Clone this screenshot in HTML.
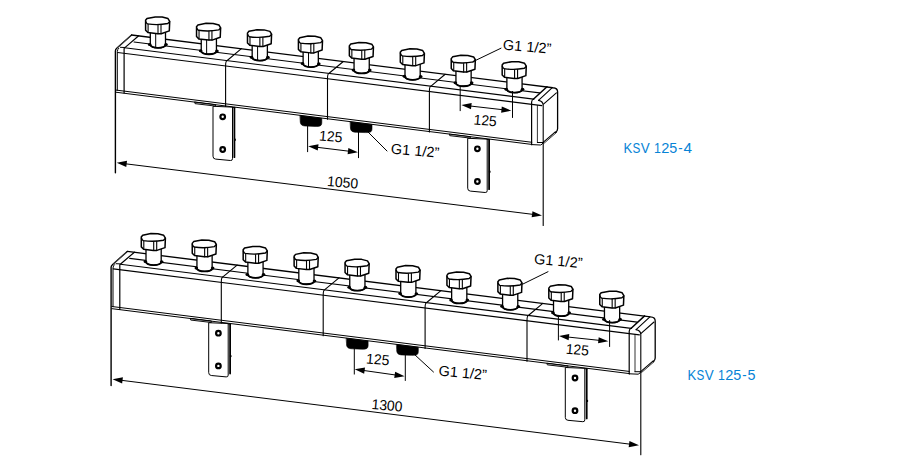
<!DOCTYPE html><html><head><meta charset="utf-8"><style>html,body{margin:0;padding:0;background:#fff;}svg{display:block;font-family:"Liberation Sans",sans-serif;}</style></head><body>
<svg width="907" height="462" viewBox="0 0 907 462" stroke-linecap="round" stroke-linejoin="round">
<rect width="907" height="462" fill="#fff"/>
<g transform="translate(0,0)">
<path d="M195 101.8 L215.6 104.4 L215.6 106.1 L195.4 103.7 Z" fill="#c8c8c8" stroke="#111" stroke-width="1" />
<path d="M213 106.7 L213 156.2 Q213 158.9 215.6 159.1 L230.5 160.5 Q232.5 160.7 232.5 158.7 L232.5 107.5 Z" fill="#fff" stroke="#000" stroke-width="1" />
<line x1="234.4" y1="107.7" x2="234.4" y2="157.2" stroke="#000" stroke-width="1.8"/>
<ellipse cx="235" cy="139.7" rx="0.9" ry="1.2" fill="#000"/>
<line x1="232.5" y1="107.5" x2="235" y2="107.6" stroke="#000" stroke-width="1"/>
<circle cx="222.7" cy="116.8" r="2.3" fill="#fff" stroke="#000" stroke-width="2.2"/>
<circle cx="222.7" cy="149.5" r="2.3" fill="#fff" stroke="#000" stroke-width="2.2"/>
<path d="M449.7 133.8 L470.3 136.4 L470.3 138.1 L450.1 135.7 Z" fill="#c8c8c8" stroke="#111" stroke-width="1" />
<path d="M467.7 138.7 L467.7 188.2 Q467.7 190.9 470.3 191.1 L485.2 192.5 Q487.2 192.7 487.2 190.7 L487.2 139.5 Z" fill="#fff" stroke="#000" stroke-width="1" />
<line x1="489.1" y1="139.7" x2="489.1" y2="189.2" stroke="#000" stroke-width="1.8"/>
<ellipse cx="489.7" cy="171.7" rx="0.9" ry="1.2" fill="#000"/>
<line x1="487.2" y1="139.5" x2="489.7" y2="139.6" stroke="#000" stroke-width="1"/>
<circle cx="477.4" cy="148.8" r="2.3" fill="#fff" stroke="#000" stroke-width="2.2"/>
<circle cx="477.4" cy="181.5" r="2.3" fill="#fff" stroke="#000" stroke-width="2.2"/>
<path d="M115.3 49.3 L131.6 35 L552.9 87.76 L557.6 91.85 L557.6 135.65 L543.1 145.33 L116.2 91.4 Z" fill="#fff" stroke="none" stroke-width="0" />
<path d="M115.4 172.7 L115.4 50.9 Q115.4 49.4 116.7 48.3 L131.6 35" fill="none" stroke="#000" stroke-width="1.4" />
<line x1="117.6" y1="47.6" x2="130.4" y2="36.2" stroke="#666" stroke-width="0.6"/>
<path d="M117.3 90.3 L117.3 51.6 Q117.4 49.3 118.8 48.2" fill="none" stroke="#000" stroke-width="1" />
<line x1="120.4" y1="47.3" x2="124.4" y2="47.5" stroke="#000" stroke-width="1"/>
<path d="M124.1 93 L124.1 48.7 Q124.2 47.8 125.2 47.4 L138.7 35.8" fill="none" stroke="#000" stroke-width="1.2" />
<path d="M131.6 35 L552.9 87.76 Q557.6 87.96 557.6 91.76 L557.6 128.75 Q557.6 131.05 555.5 132.45" fill="none" stroke="#000" stroke-width="1.3" />
<line x1="134" y1="41.99" x2="539.6" y2="92.9" stroke="#000" stroke-width="1.1"/>
<line x1="124.6" y1="47.81" x2="533.6" y2="99.14" stroke="#000" stroke-width="1.1"/>
<line x1="117.6" y1="52.43" x2="541.8" y2="105.67" stroke="#000" stroke-width="1.1"/>
<line x1="116.2" y1="90.11" x2="531.8" y2="142.27" stroke="#000" stroke-width="1"/>
<line x1="116.2" y1="92.26" x2="531.8" y2="144.42" stroke="#000" stroke-width="1"/>
<g transform="translate(0,0)">
<line x1="533.6" y1="99" x2="547" y2="86.7" stroke="#000" stroke-width="1.5"/>
<line x1="538.5" y1="100.4" x2="552.3" y2="87.6" stroke="#000" stroke-width="1.1"/>
<line x1="543.5" y1="104.2" x2="556.4" y2="92.8" stroke="#000" stroke-width="1.1"/>
<path d="M531.6 144.7 L531.6 102 Q531.8 99.4 533.8 99" fill="none" stroke="#000" stroke-width="1.2" />
<path d="M538.5 100.4 Q543.0 101.2 543.2 105.2 L543.2 225.5" fill="none" stroke="#000" stroke-width="1.1" />
<line x1="537.4" y1="105.4" x2="537.4" y2="142.5" stroke="#000" stroke-width="0.8"/>
<line x1="537.4" y1="142.5" x2="543.2" y2="142.5" stroke="#000" stroke-width="1"/>
<line x1="555.3" y1="131.9" x2="543.1" y2="142.4" stroke="#000" stroke-width="1.1"/>
<line x1="556.6" y1="132.4" x2="544" y2="143.3" stroke="#000" stroke-width="0.8"/>
<path d="M531.8 144.6 L540.5 145 Q542.5 144.6 543.2 142.5" fill="none" stroke="#000" stroke-width="1" />
</g>
<path d="M225.6 106.49 L225.6 65.79 Q225.6 60.79 227.2 60.49 L241.4 48.67" fill="none" stroke="#000" stroke-width="1.1" />
<path d="M327.5 119.28 L327.5 78.58 Q327.5 73.58 329.1 73.28 L343.3 61.46" fill="none" stroke="#000" stroke-width="1.1" />
<path d="M429.4 132.06 L429.4 91.36 Q429.4 86.36 431 86.06 L445.2 74.25" fill="none" stroke="#000" stroke-width="1.1" />
<path d="M300.2 115.6 L321.8 118.3 L321.8 122.4 C321.8 126.2 319.7 126.4 315.2 126.4 L306.2 126.1 C302 125.9 300.2 124.8 300.2 121.2 Z" fill="#000" stroke="#000" stroke-width="0.6" />
<path d="M350.4 121.8 L372 124.5 L372 128.6 C372 132.4 369.9 132.6 365.4 132.6 L356.4 132.3 C352.2 132.1 350.4 131 350.4 127.4 Z" fill="#000" stroke="#000" stroke-width="0.6" />
<path d="M150.3 31.5 L150.3 44.9 C152.2 48.8 163.6 48.8 165.5 45.1 L165.5 31.5 Z" fill="#fff" stroke="#000" stroke-width="1.3" />
<path d="M149.8 44.7 C152 48.9 163.8 48.9 166 44.9" fill="none" stroke="#000" stroke-width="1.8" />
<line x1="155.7" y1="33.5" x2="155.7" y2="47.5" stroke="#000" stroke-width="1"/>
<ellipse cx="149.7" cy="44.4" rx="1.8" ry="1.5" fill="#000"/>
<ellipse cx="166" cy="44.5" rx="1.8" ry="1.5" fill="#000"/>
<path d="M145.6 20.3 L147 18.5 L155.2 16.9 L162.2 17.1 L168 18.6 L169.7 21.4 L169.3 30.9 L161.2 33.7 L157.7 33.7 L147.9 32.5 L145.6 30.2 L145.6 20.1 Z" fill="#fff" stroke="#000" stroke-width="1.5" />
<path d="M145.8 21.6 Q146.4 23.5 147.6 23.9 Q157.7 25.5 167.8 23.5 L169.6 21.7" fill="none" stroke="#000" stroke-width="1.4" />
<line x1="148.1" y1="24" x2="148.1" y2="32.3" stroke="#000" stroke-width="1.1"/>
<line x1="158" y1="25.1" x2="158" y2="33.6" stroke="#000" stroke-width="1.1"/>
<line x1="161" y1="24.7" x2="161" y2="33.6" stroke="#000" stroke-width="1.1"/>
<path d="M201.24 37.89 L201.24 51.29 C203.14 55.19 214.54 55.19 216.44 51.49 L216.44 37.89 Z" fill="#fff" stroke="#000" stroke-width="1.3" />
<path d="M200.74 51.09 C202.94 55.29 214.74 55.29 216.94 51.29" fill="none" stroke="#000" stroke-width="1.8" />
<line x1="206.64" y1="39.89" x2="206.64" y2="53.89" stroke="#000" stroke-width="1"/>
<ellipse cx="200.64" cy="50.79" rx="1.8" ry="1.5" fill="#000"/>
<ellipse cx="216.94" cy="50.89" rx="1.8" ry="1.5" fill="#000"/>
<path d="M196.54 26.69 L197.94 24.89 L206.14 23.29 L213.14 23.49 L218.94 24.99 L220.64 27.79 L220.24 37.29 L212.14 40.09 L208.64 40.09 L198.84 38.89 L196.54 36.59 L196.54 26.49 Z" fill="#fff" stroke="#000" stroke-width="1.5" />
<path d="M196.74 27.99 Q197.34 29.89 198.54 30.29 Q208.64 31.89 218.74 29.89 L220.54 28.09" fill="none" stroke="#000" stroke-width="1.4" />
<line x1="199.04" y1="30.39" x2="199.04" y2="38.69" stroke="#000" stroke-width="1.1"/>
<line x1="208.94" y1="31.49" x2="208.94" y2="39.99" stroke="#000" stroke-width="1.1"/>
<line x1="211.94" y1="31.09" x2="211.94" y2="39.99" stroke="#000" stroke-width="1.1"/>
<path d="M252.18 44.29 L252.18 57.69 C254.08 61.59 265.48 61.59 267.38 57.89 L267.38 44.29 Z" fill="#fff" stroke="#000" stroke-width="1.3" />
<path d="M251.68 57.49 C253.88 61.69 265.68 61.69 267.88 57.69" fill="none" stroke="#000" stroke-width="1.8" />
<line x1="257.58" y1="46.29" x2="257.58" y2="60.29" stroke="#000" stroke-width="1"/>
<ellipse cx="251.58" cy="57.19" rx="1.8" ry="1.5" fill="#000"/>
<ellipse cx="267.88" cy="57.29" rx="1.8" ry="1.5" fill="#000"/>
<path d="M247.48 33.09 L248.88 31.29 L257.08 29.69 L264.08 29.89 L269.88 31.39 L271.58 34.19 L271.18 43.69 L263.08 46.49 L259.58 46.49 L249.78 45.29 L247.48 42.99 L247.48 32.89 Z" fill="#fff" stroke="#000" stroke-width="1.5" />
<path d="M247.68 34.39 Q248.28 36.29 249.48 36.69 Q259.58 38.29 269.68 36.29 L271.48 34.49" fill="none" stroke="#000" stroke-width="1.4" />
<line x1="249.98" y1="36.79" x2="249.98" y2="45.09" stroke="#000" stroke-width="1.1"/>
<line x1="259.88" y1="37.89" x2="259.88" y2="46.39" stroke="#000" stroke-width="1.1"/>
<line x1="262.88" y1="37.49" x2="262.88" y2="46.39" stroke="#000" stroke-width="1.1"/>
<path d="M303.12 50.68 L303.12 64.08 C305.02 67.98 316.42 67.98 318.32 64.28 L318.32 50.68 Z" fill="#fff" stroke="#000" stroke-width="1.3" />
<path d="M302.62 63.88 C304.82 68.08 316.62 68.08 318.82 64.08" fill="none" stroke="#000" stroke-width="1.8" />
<line x1="308.52" y1="52.68" x2="308.52" y2="66.68" stroke="#000" stroke-width="1"/>
<ellipse cx="302.52" cy="63.58" rx="1.8" ry="1.5" fill="#000"/>
<ellipse cx="318.82" cy="63.68" rx="1.8" ry="1.5" fill="#000"/>
<path d="M298.42 39.48 L299.82 37.68 L308.02 36.08 L315.02 36.28 L320.82 37.78 L322.52 40.58 L322.12 50.08 L314.02 52.88 L310.52 52.88 L300.72 51.68 L298.42 49.38 L298.42 39.28 Z" fill="#fff" stroke="#000" stroke-width="1.5" />
<path d="M298.62 40.78 Q299.22 42.68 300.42 43.08 Q310.52 44.68 320.62 42.68 L322.42 40.88" fill="none" stroke="#000" stroke-width="1.4" />
<line x1="300.92" y1="43.18" x2="300.92" y2="51.48" stroke="#000" stroke-width="1.1"/>
<line x1="310.82" y1="44.28" x2="310.82" y2="52.78" stroke="#000" stroke-width="1.1"/>
<line x1="313.82" y1="43.88" x2="313.82" y2="52.78" stroke="#000" stroke-width="1.1"/>
<path d="M354.06 57.07 L354.06 70.47 C355.96 74.37 367.36 74.37 369.26 70.67 L369.26 57.07 Z" fill="#fff" stroke="#000" stroke-width="1.3" />
<path d="M353.56 70.27 C355.76 74.47 367.56 74.47 369.76 70.47" fill="none" stroke="#000" stroke-width="1.8" />
<ellipse cx="353.46" cy="69.97" rx="1.8" ry="1.5" fill="#000"/>
<ellipse cx="369.76" cy="70.07" rx="1.8" ry="1.5" fill="#000"/>
<path d="M349.36 45.87 L350.76 44.07 L358.96 42.47 L365.96 42.67 L371.76 44.17 L373.46 46.97 L373.06 56.47 L364.96 59.27 L361.46 59.27 L351.66 58.07 L349.36 55.77 L349.36 45.67 Z" fill="#fff" stroke="#000" stroke-width="1.5" />
<path d="M349.56 47.17 Q350.16 49.07 351.36 49.47 Q361.46 51.07 371.56 49.07 L373.36 47.27" fill="none" stroke="#000" stroke-width="1.4" />
<line x1="351.86" y1="49.57" x2="351.86" y2="57.87" stroke="#000" stroke-width="1.1"/>
<line x1="361.76" y1="50.67" x2="361.76" y2="59.17" stroke="#000" stroke-width="1.1"/>
<line x1="364.76" y1="50.27" x2="364.76" y2="59.17" stroke="#000" stroke-width="1.1"/>
<path d="M405 63.46 L405 76.86 C406.9 80.76 418.3 80.76 420.2 77.06 L420.2 63.46 Z" fill="#fff" stroke="#000" stroke-width="1.3" />
<path d="M404.5 76.66 C406.7 80.86 418.5 80.86 420.7 76.86" fill="none" stroke="#000" stroke-width="1.8" />
<ellipse cx="404.4" cy="76.36" rx="1.8" ry="1.5" fill="#000"/>
<ellipse cx="420.7" cy="76.46" rx="1.8" ry="1.5" fill="#000"/>
<path d="M400.3 52.26 L401.7 50.46 L409.9 48.86 L416.9 49.06 L422.7 50.56 L424.4 53.36 L424 62.86 L415.9 65.66 L412.4 65.66 L402.6 64.46 L400.3 62.16 L400.3 52.06 Z" fill="#fff" stroke="#000" stroke-width="1.5" />
<path d="M400.5 53.56 Q401.1 55.46 402.3 55.86 Q412.4 57.46 422.5 55.46 L424.3 53.66" fill="none" stroke="#000" stroke-width="1.4" />
<line x1="402.8" y1="55.96" x2="402.8" y2="64.26" stroke="#000" stroke-width="1.1"/>
<line x1="412.7" y1="57.06" x2="412.7" y2="65.56" stroke="#000" stroke-width="1.1"/>
<line x1="415.7" y1="56.66" x2="415.7" y2="65.56" stroke="#000" stroke-width="1.1"/>
<path d="M455.94 69.86 L455.94 83.26 C457.84 87.16 469.24 87.16 471.14 83.46 L471.14 69.86 Z" fill="#fff" stroke="#000" stroke-width="1.3" />
<path d="M455.44 83.06 C457.64 87.26 469.44 87.26 471.64 83.26" fill="none" stroke="#000" stroke-width="1.8" />
<ellipse cx="455.34" cy="82.76" rx="1.8" ry="1.5" fill="#000"/>
<ellipse cx="471.64" cy="82.86" rx="1.8" ry="1.5" fill="#000"/>
<path d="M451.24 58.66 L452.64 56.86 L460.84 55.26 L467.84 55.46 L473.64 56.96 L475.34 59.76 L474.94 69.26 L466.84 72.06 L463.34 72.06 L453.54 70.86 L451.24 68.56 L451.24 58.46 Z" fill="#fff" stroke="#000" stroke-width="1.5" />
<path d="M451.44 59.96 Q452.04 61.86 453.24 62.26 Q463.34 63.86 473.44 61.86 L475.24 60.06" fill="none" stroke="#000" stroke-width="1.4" />
<line x1="453.74" y1="62.36" x2="453.74" y2="70.66" stroke="#000" stroke-width="1.1"/>
<line x1="463.64" y1="63.46" x2="463.64" y2="71.96" stroke="#000" stroke-width="1.1"/>
<line x1="466.64" y1="63.06" x2="466.64" y2="71.96" stroke="#000" stroke-width="1.1"/>
<path d="M506.88 76.25 L506.88 89.65 C508.78 93.55 520.18 93.55 522.08 89.85 L522.08 76.25 Z" fill="#fff" stroke="#000" stroke-width="1.3" />
<path d="M506.38 89.45 C508.58 93.65 520.38 93.65 522.58 89.65" fill="none" stroke="#000" stroke-width="1.8" />
<ellipse cx="506.28" cy="89.15" rx="1.8" ry="1.5" fill="#000"/>
<ellipse cx="522.58" cy="89.25" rx="1.8" ry="1.5" fill="#000"/>
<path d="M502.18 65.05 L503.58 63.25 L511.78 61.65 L518.78 61.85 L524.58 63.35 L526.28 66.15 L525.88 75.65 L517.78 78.45 L514.28 78.45 L504.48 77.25 L502.18 74.95 L502.18 64.85 Z" fill="#fff" stroke="#000" stroke-width="1.5" />
<path d="M502.38 66.35 Q502.98 68.25 504.18 68.65 Q514.28 70.25 524.38 68.25 L526.18 66.45" fill="none" stroke="#000" stroke-width="1.4" />
<line x1="504.68" y1="68.75" x2="504.68" y2="77.05" stroke="#000" stroke-width="1.1"/>
<line x1="514.58" y1="69.85" x2="514.58" y2="78.35" stroke="#000" stroke-width="1.1"/>
<line x1="517.58" y1="69.45" x2="517.58" y2="78.35" stroke="#000" stroke-width="1.1"/>
</g>
<line x1="307.6" y1="125.5" x2="307.6" y2="151.7" stroke="#000" stroke-width="1"/>
<line x1="358.5" y1="131.5" x2="358.5" y2="157.7" stroke="#000" stroke-width="1"/>
<line x1="313.16" y1="146.81" x2="352.94" y2="151.69" stroke="#000" stroke-width="1"/>
<path d="M308.2 146.2 L317.75 150.5 L318.5 144.34 Z" fill="#000"/>
<path d="M357.9 152.3 L347.6 154.16 L348.35 148 Z" fill="#000"/>
<text x="0" y="0" transform="translate(318.8,140.4) rotate(5) skewX(0) scale(0.96,1)" font-size="14.5" fill="#000">125</text>
<line x1="367" y1="131" x2="387" y2="151" stroke="#000" stroke-width="1"/>
<text x="0" y="0" transform="translate(390.6,153.5) rotate(5) skewX(0) scale(1,1)" font-size="14.5" fill="#000">G1 1/2”</text>
<line x1="460.2" y1="86.8" x2="460.2" y2="110.7" stroke="#000" stroke-width="1"/>
<line x1="512.5" y1="91.4" x2="512.5" y2="117.5" stroke="#000" stroke-width="1"/>
<line x1="466.37" y1="105.57" x2="506.43" y2="110.13" stroke="#000" stroke-width="1"/>
<path d="M461.4 105 L470.98 109.21 L471.69 103.05 Z" fill="#000"/>
<path d="M511.4 110.7 L501.11 112.65 L501.82 106.49 Z" fill="#000"/>
<text x="0" y="0" transform="translate(473.2,124.4) rotate(5) skewX(0) scale(0.96,1)" font-size="14.5" fill="#000">125</text>
<line x1="472.7" y1="61.8" x2="501" y2="48.2" stroke="#000" stroke-width="1"/>
<text x="0" y="0" transform="translate(502.6,49.5) rotate(5) skewX(0) scale(1,1)" font-size="14.5" fill="#000">G1 1/2”</text>
<line x1="121.66" y1="163.32" x2="537.04" y2="214.88" stroke="#000" stroke-width="1"/>
<path d="M116.7 162.7 L126.24 167.01 L127.01 160.86 Z" fill="#000"/>
<path d="M542 215.5 L531.69 217.34 L532.46 211.19 Z" fill="#000"/>
<text x="0" y="0" transform="translate(326.8,186) rotate(5) skewX(0) scale(0.96,1)" font-size="14.5" fill="#000">1050</text>
<text x="-5.39" y="0" transform="translate(628.35,153) scale(0.9,1)" font-size="14.6" fill="#0683d6">K</text>
<text x="-4.87" y="0" transform="translate(636.4,153) scale(0.8,1)" font-size="14.6" fill="#0683d6">S</text>
<text x="-4.87" y="0" transform="translate(645.1,153) scale(0.92,1)" font-size="14.6" fill="#0683d6">V</text>
<text x="-4.26" y="0" transform="translate(657.5,153) scale(0.85,1)" font-size="14.6" fill="#0683d6">1</text>
<text x="-4.06" y="0" transform="translate(665.35,153) scale(1,1)" font-size="14.6" fill="#0683d6">2</text>
<text x="-4.05" y="0" transform="translate(673.3,153) scale(0.98,1)" font-size="14.6" fill="#0683d6">5</text>
<text x="-2.43" y="0" transform="translate(680.45,153) scale(0.9,1)" font-size="14.6" fill="#0683d6">-</text>
<text x="-4.01" y="0" transform="translate(687.7,153) scale(1.05,1)" font-size="14.6" fill="#0683d6">4</text>
<g transform="translate(-4.3,216.4)">
<path d="M195 101.8 L215.6 104.4 L215.6 106.1 L195.4 103.7 Z" fill="#c8c8c8" stroke="#111" stroke-width="1" />
<path d="M213 106.7 L213 156.2 Q213 158.9 215.6 159.1 L230.5 160.5 Q232.5 160.7 232.5 158.7 L232.5 107.5 Z" fill="#fff" stroke="#000" stroke-width="1" />
<line x1="234.4" y1="107.7" x2="234.4" y2="157.2" stroke="#000" stroke-width="1.8"/>
<ellipse cx="235" cy="139.7" rx="0.9" ry="1.2" fill="#000"/>
<line x1="232.5" y1="107.5" x2="235" y2="107.6" stroke="#000" stroke-width="1"/>
<circle cx="222.7" cy="116.8" r="2.3" fill="#fff" stroke="#000" stroke-width="2.2"/>
<circle cx="222.7" cy="149.5" r="2.3" fill="#fff" stroke="#000" stroke-width="2.2"/>
<path d="M551.6 146.59 L572.2 149.19 L572.2 150.89 L552 148.49 Z" fill="#c8c8c8" stroke="#111" stroke-width="1" />
<path d="M569.6 151.49 L569.6 200.99 Q569.6 203.69 572.2 203.89 L587.1 205.29 Q589.1 205.49 589.1 203.49 L589.1 152.29 Z" fill="#fff" stroke="#000" stroke-width="1" />
<line x1="591" y1="152.49" x2="591" y2="201.99" stroke="#000" stroke-width="1.8"/>
<ellipse cx="591.6" cy="184.49" rx="0.9" ry="1.2" fill="#000"/>
<line x1="589.1" y1="152.29" x2="591.6" y2="152.39" stroke="#000" stroke-width="1"/>
<circle cx="579.3" cy="161.59" r="2.3" fill="#fff" stroke="#000" stroke-width="2.2"/>
<circle cx="579.3" cy="194.29" r="2.3" fill="#fff" stroke="#000" stroke-width="2.2"/>
<path d="M115.3 49.3 L131.6 35 L654.8 100.55 L659.5 104.64 L659.5 148.44 L645 158.12 L116.2 91.4 Z" fill="#fff" stroke="none" stroke-width="0" />
<path d="M115.4 169.1 L115.4 50.9 Q115.4 49.4 116.7 48.3 L131.6 35" fill="none" stroke="#000" stroke-width="1.4" />
<line x1="117.6" y1="47.6" x2="130.4" y2="36.2" stroke="#666" stroke-width="0.6"/>
<path d="M117.3 90.3 L117.3 51.6 Q117.4 49.3 118.8 48.2" fill="none" stroke="#000" stroke-width="1" />
<line x1="120.4" y1="47.3" x2="124.4" y2="47.5" stroke="#000" stroke-width="1"/>
<path d="M124.1 93 L124.1 48.7 Q124.2 47.8 125.2 47.4 L138.7 35.8" fill="none" stroke="#000" stroke-width="1.2" />
<path d="M131.6 35 L654.8 100.55 Q659.5 100.75 659.5 104.55 L659.5 141.54 Q659.5 143.84 657.4 145.24" fill="none" stroke="#000" stroke-width="1.3" />
<line x1="134" y1="41.99" x2="641.5" y2="105.68" stroke="#000" stroke-width="1.1"/>
<line x1="124.6" y1="47.81" x2="635.5" y2="111.93" stroke="#000" stroke-width="1.1"/>
<line x1="117.6" y1="52.43" x2="643.7" y2="118.46" stroke="#000" stroke-width="1.1"/>
<line x1="116.2" y1="90.11" x2="633.7" y2="155.05" stroke="#000" stroke-width="1"/>
<line x1="116.2" y1="92.26" x2="633.7" y2="157.2" stroke="#000" stroke-width="1"/>
<g transform="translate(101.9,12.79)">
<line x1="533.6" y1="99" x2="547" y2="86.7" stroke="#000" stroke-width="1.5"/>
<line x1="538.5" y1="100.4" x2="552.3" y2="87.6" stroke="#000" stroke-width="1.1"/>
<line x1="543.5" y1="104.2" x2="556.4" y2="92.8" stroke="#000" stroke-width="1.1"/>
<path d="M531.6 144.7 L531.6 102 Q531.8 99.4 533.8 99" fill="none" stroke="#000" stroke-width="1.2" />
<path d="M538.5 100.4 Q543.0 101.2 543.2 105.2 L543.2 225.5" fill="none" stroke="#000" stroke-width="1.1" />
<line x1="537.4" y1="105.4" x2="537.4" y2="142.5" stroke="#000" stroke-width="0.8"/>
<line x1="537.4" y1="142.5" x2="543.2" y2="142.5" stroke="#000" stroke-width="1"/>
<line x1="555.3" y1="131.9" x2="543.1" y2="142.4" stroke="#000" stroke-width="1.1"/>
<line x1="556.6" y1="132.4" x2="544" y2="143.3" stroke="#000" stroke-width="0.8"/>
<path d="M531.8 144.6 L540.5 145 Q542.5 144.6 543.2 142.5" fill="none" stroke="#000" stroke-width="1" />
</g>
<path d="M225.6 106.49 L225.6 65.79 Q225.6 60.79 227.2 60.49 L241.4 48.67" fill="none" stroke="#000" stroke-width="1.1" />
<path d="M327.5 119.28 L327.5 78.58 Q327.5 73.58 329.1 73.28 L343.3 61.46" fill="none" stroke="#000" stroke-width="1.1" />
<path d="M429.4 132.06 L429.4 91.36 Q429.4 86.36 431 86.06 L445.2 74.25" fill="none" stroke="#000" stroke-width="1.1" />
<path d="M531.3 144.85 L531.3 104.15 Q531.3 99.15 532.9 98.85 L547.1 87.04" fill="none" stroke="#000" stroke-width="1.1" />
<path d="M350.8 121.95 L372.4 124.65 L372.4 128.75 C372.4 132.55 370.3 132.75 365.8 132.75 L356.8 132.45 C352.6 132.25 350.8 131.15 350.8 127.55 Z" fill="#000" stroke="#000" stroke-width="0.6" />
<path d="M401 128.15 L422.6 130.85 L422.6 134.95 C422.6 138.75 420.5 138.95 416 138.95 L407 138.65 C402.8 138.45 401 137.35 401 133.75 Z" fill="#000" stroke="#000" stroke-width="0.6" />
<path d="M150.3 32.3 L150.3 45.7 C152.2 49.6 163.6 49.6 165.5 45.9 L165.5 32.3 Z" fill="#fff" stroke="#000" stroke-width="1.3" />
<path d="M149.8 45.5 C152 49.7 163.8 49.7 166 45.7" fill="none" stroke="#000" stroke-width="1.8" />
<ellipse cx="149.7" cy="45.2" rx="1.8" ry="1.5" fill="#000"/>
<ellipse cx="166" cy="45.3" rx="1.8" ry="1.5" fill="#000"/>
<path d="M145.6 20.6 L147 18.8 L155.2 17.2 L162.2 17.4 L168 18.9 L169.7 21.7 L169.3 31.2 L161.2 34 L157.7 34 L147.9 32.8 L145.6 30.5 L145.6 20.4 Z" fill="#fff" stroke="#000" stroke-width="1.5" />
<path d="M145.8 21.9 Q146.4 23.8 147.6 24.2 Q157.7 25.8 167.8 23.8 L169.6 22" fill="none" stroke="#000" stroke-width="1.4" />
<line x1="148.1" y1="24.3" x2="148.1" y2="32.6" stroke="#000" stroke-width="1.1"/>
<line x1="158" y1="25.4" x2="158" y2="33.9" stroke="#000" stroke-width="1.1"/>
<line x1="161" y1="25" x2="161" y2="33.9" stroke="#000" stroke-width="1.1"/>
<path d="M201.24 38.69 L201.24 52.09 C203.14 55.99 214.54 55.99 216.44 52.29 L216.44 38.69 Z" fill="#fff" stroke="#000" stroke-width="1.3" />
<path d="M200.74 51.89 C202.94 56.09 214.74 56.09 216.94 52.09" fill="none" stroke="#000" stroke-width="1.8" />
<ellipse cx="200.64" cy="51.59" rx="1.8" ry="1.5" fill="#000"/>
<ellipse cx="216.94" cy="51.69" rx="1.8" ry="1.5" fill="#000"/>
<path d="M196.54 26.99 L197.94 25.19 L206.14 23.59 L213.14 23.79 L218.94 25.29 L220.64 28.09 L220.24 37.59 L212.14 40.39 L208.64 40.39 L198.84 39.19 L196.54 36.89 L196.54 26.79 Z" fill="#fff" stroke="#000" stroke-width="1.5" />
<path d="M196.74 28.29 Q197.34 30.19 198.54 30.59 Q208.64 32.19 218.74 30.19 L220.54 28.39" fill="none" stroke="#000" stroke-width="1.4" />
<line x1="199.04" y1="30.69" x2="199.04" y2="38.99" stroke="#000" stroke-width="1.1"/>
<line x1="208.94" y1="31.79" x2="208.94" y2="40.29" stroke="#000" stroke-width="1.1"/>
<line x1="211.94" y1="31.39" x2="211.94" y2="40.29" stroke="#000" stroke-width="1.1"/>
<path d="M252.18 45.09 L252.18 58.49 C254.08 62.39 265.48 62.39 267.38 58.69 L267.38 45.09 Z" fill="#fff" stroke="#000" stroke-width="1.3" />
<path d="M251.68 58.29 C253.88 62.49 265.68 62.49 267.88 58.49" fill="none" stroke="#000" stroke-width="1.8" />
<ellipse cx="251.58" cy="57.99" rx="1.8" ry="1.5" fill="#000"/>
<ellipse cx="267.88" cy="58.09" rx="1.8" ry="1.5" fill="#000"/>
<path d="M247.48 33.39 L248.88 31.59 L257.08 29.99 L264.08 30.19 L269.88 31.69 L271.58 34.49 L271.18 43.99 L263.08 46.79 L259.58 46.79 L249.78 45.59 L247.48 43.29 L247.48 33.19 Z" fill="#fff" stroke="#000" stroke-width="1.5" />
<path d="M247.68 34.69 Q248.28 36.59 249.48 36.99 Q259.58 38.59 269.68 36.59 L271.48 34.79" fill="none" stroke="#000" stroke-width="1.4" />
<line x1="249.98" y1="37.09" x2="249.98" y2="45.39" stroke="#000" stroke-width="1.1"/>
<line x1="259.88" y1="38.19" x2="259.88" y2="46.69" stroke="#000" stroke-width="1.1"/>
<line x1="262.88" y1="37.79" x2="262.88" y2="46.69" stroke="#000" stroke-width="1.1"/>
<path d="M303.12 51.48 L303.12 64.88 C305.02 68.78 316.42 68.78 318.32 65.08 L318.32 51.48 Z" fill="#fff" stroke="#000" stroke-width="1.3" />
<path d="M302.62 64.68 C304.82 68.88 316.62 68.88 318.82 64.88" fill="none" stroke="#000" stroke-width="1.8" />
<ellipse cx="302.52" cy="64.38" rx="1.8" ry="1.5" fill="#000"/>
<ellipse cx="318.82" cy="64.48" rx="1.8" ry="1.5" fill="#000"/>
<path d="M298.42 39.78 L299.82 37.98 L308.02 36.38 L315.02 36.58 L320.82 38.08 L322.52 40.88 L322.12 50.38 L314.02 53.18 L310.52 53.18 L300.72 51.98 L298.42 49.68 L298.42 39.58 Z" fill="#fff" stroke="#000" stroke-width="1.5" />
<path d="M298.62 41.08 Q299.22 42.98 300.42 43.38 Q310.52 44.98 320.62 42.98 L322.42 41.18" fill="none" stroke="#000" stroke-width="1.4" />
<line x1="300.92" y1="43.48" x2="300.92" y2="51.78" stroke="#000" stroke-width="1.1"/>
<line x1="310.82" y1="44.58" x2="310.82" y2="53.08" stroke="#000" stroke-width="1.1"/>
<line x1="313.82" y1="44.18" x2="313.82" y2="53.08" stroke="#000" stroke-width="1.1"/>
<path d="M354.06 57.87 L354.06 71.27 C355.96 75.17 367.36 75.17 369.26 71.47 L369.26 57.87 Z" fill="#fff" stroke="#000" stroke-width="1.3" />
<path d="M353.56 71.07 C355.76 75.27 367.56 75.27 369.76 71.27" fill="none" stroke="#000" stroke-width="1.8" />
<ellipse cx="353.46" cy="70.77" rx="1.8" ry="1.5" fill="#000"/>
<ellipse cx="369.76" cy="70.87" rx="1.8" ry="1.5" fill="#000"/>
<path d="M349.36 46.17 L350.76 44.37 L358.96 42.77 L365.96 42.97 L371.76 44.47 L373.46 47.27 L373.06 56.77 L364.96 59.57 L361.46 59.57 L351.66 58.37 L349.36 56.07 L349.36 45.97 Z" fill="#fff" stroke="#000" stroke-width="1.5" />
<path d="M349.56 47.47 Q350.16 49.37 351.36 49.77 Q361.46 51.37 371.56 49.37 L373.36 47.57" fill="none" stroke="#000" stroke-width="1.4" />
<line x1="351.86" y1="49.87" x2="351.86" y2="58.17" stroke="#000" stroke-width="1.1"/>
<line x1="361.76" y1="50.97" x2="361.76" y2="59.47" stroke="#000" stroke-width="1.1"/>
<line x1="364.76" y1="50.57" x2="364.76" y2="59.47" stroke="#000" stroke-width="1.1"/>
<path d="M405 64.26 L405 77.66 C406.9 81.56 418.3 81.56 420.2 77.86 L420.2 64.26 Z" fill="#fff" stroke="#000" stroke-width="1.3" />
<path d="M404.5 77.46 C406.7 81.66 418.5 81.66 420.7 77.66" fill="none" stroke="#000" stroke-width="1.8" />
<ellipse cx="404.4" cy="77.16" rx="1.8" ry="1.5" fill="#000"/>
<ellipse cx="420.7" cy="77.26" rx="1.8" ry="1.5" fill="#000"/>
<path d="M400.3 52.56 L401.7 50.76 L409.9 49.16 L416.9 49.36 L422.7 50.86 L424.4 53.66 L424 63.16 L415.9 65.96 L412.4 65.96 L402.6 64.76 L400.3 62.46 L400.3 52.36 Z" fill="#fff" stroke="#000" stroke-width="1.5" />
<path d="M400.5 53.86 Q401.1 55.76 402.3 56.16 Q412.4 57.76 422.5 55.76 L424.3 53.96" fill="none" stroke="#000" stroke-width="1.4" />
<line x1="402.8" y1="56.26" x2="402.8" y2="64.56" stroke="#000" stroke-width="1.1"/>
<line x1="412.7" y1="57.36" x2="412.7" y2="65.86" stroke="#000" stroke-width="1.1"/>
<line x1="415.7" y1="56.96" x2="415.7" y2="65.86" stroke="#000" stroke-width="1.1"/>
<path d="M455.94 70.66 L455.94 84.06 C457.84 87.96 469.24 87.96 471.14 84.26 L471.14 70.66 Z" fill="#fff" stroke="#000" stroke-width="1.3" />
<path d="M455.44 83.86 C457.64 88.06 469.44 88.06 471.64 84.06" fill="none" stroke="#000" stroke-width="1.8" />
<ellipse cx="455.34" cy="83.56" rx="1.8" ry="1.5" fill="#000"/>
<ellipse cx="471.64" cy="83.66" rx="1.8" ry="1.5" fill="#000"/>
<path d="M451.24 58.96 L452.64 57.16 L460.84 55.56 L467.84 55.76 L473.64 57.26 L475.34 60.06 L474.94 69.56 L466.84 72.36 L463.34 72.36 L453.54 71.16 L451.24 68.86 L451.24 58.76 Z" fill="#fff" stroke="#000" stroke-width="1.5" />
<path d="M451.44 60.26 Q452.04 62.16 453.24 62.56 Q463.34 64.16 473.44 62.16 L475.24 60.36" fill="none" stroke="#000" stroke-width="1.4" />
<line x1="453.74" y1="62.66" x2="453.74" y2="70.96" stroke="#000" stroke-width="1.1"/>
<line x1="463.64" y1="63.76" x2="463.64" y2="72.26" stroke="#000" stroke-width="1.1"/>
<line x1="466.64" y1="63.36" x2="466.64" y2="72.26" stroke="#000" stroke-width="1.1"/>
<path d="M506.88 77.05 L506.88 90.45 C508.78 94.35 520.18 94.35 522.08 90.65 L522.08 77.05 Z" fill="#fff" stroke="#000" stroke-width="1.3" />
<path d="M506.38 90.25 C508.58 94.45 520.38 94.45 522.58 90.45" fill="none" stroke="#000" stroke-width="1.8" />
<ellipse cx="506.28" cy="89.95" rx="1.8" ry="1.5" fill="#000"/>
<ellipse cx="522.58" cy="90.05" rx="1.8" ry="1.5" fill="#000"/>
<path d="M502.18 65.35 L503.58 63.55 L511.78 61.95 L518.78 62.15 L524.58 63.65 L526.28 66.45 L525.88 75.95 L517.78 78.75 L514.28 78.75 L504.48 77.55 L502.18 75.25 L502.18 65.15 Z" fill="#fff" stroke="#000" stroke-width="1.5" />
<path d="M502.38 66.65 Q502.98 68.55 504.18 68.95 Q514.28 70.55 524.38 68.55 L526.18 66.75" fill="none" stroke="#000" stroke-width="1.4" />
<line x1="504.68" y1="69.05" x2="504.68" y2="77.35" stroke="#000" stroke-width="1.1"/>
<line x1="514.58" y1="70.15" x2="514.58" y2="78.65" stroke="#000" stroke-width="1.1"/>
<line x1="517.58" y1="69.75" x2="517.58" y2="78.65" stroke="#000" stroke-width="1.1"/>
<path d="M557.82 83.44 L557.82 96.84 C559.72 100.74 571.12 100.74 573.02 97.04 L573.02 83.44 Z" fill="#fff" stroke="#000" stroke-width="1.3" />
<path d="M557.32 96.64 C559.52 100.84 571.32 100.84 573.52 96.84" fill="none" stroke="#000" stroke-width="1.8" />
<ellipse cx="557.22" cy="96.34" rx="1.8" ry="1.5" fill="#000"/>
<ellipse cx="573.52" cy="96.44" rx="1.8" ry="1.5" fill="#000"/>
<path d="M553.12 71.74 L554.52 69.94 L562.72 68.34 L569.72 68.54 L575.52 70.04 L577.22 72.84 L576.82 82.34 L568.72 85.14 L565.22 85.14 L555.42 83.94 L553.12 81.64 L553.12 71.54 Z" fill="#fff" stroke="#000" stroke-width="1.5" />
<path d="M553.32 73.04 Q553.92 74.94 555.12 75.34 Q565.22 76.94 575.32 74.94 L577.12 73.14" fill="none" stroke="#000" stroke-width="1.4" />
<line x1="555.62" y1="75.44" x2="555.62" y2="83.74" stroke="#000" stroke-width="1.1"/>
<line x1="565.52" y1="76.54" x2="565.52" y2="85.04" stroke="#000" stroke-width="1.1"/>
<line x1="568.52" y1="76.14" x2="568.52" y2="85.04" stroke="#000" stroke-width="1.1"/>
<path d="M608.76 89.84 L608.76 103.24 C610.66 107.14 622.06 107.14 623.96 103.44 L623.96 89.84 Z" fill="#fff" stroke="#000" stroke-width="1.3" />
<path d="M608.26 103.04 C610.46 107.24 622.26 107.24 624.46 103.24" fill="none" stroke="#000" stroke-width="1.8" />
<ellipse cx="608.16" cy="102.74" rx="1.8" ry="1.5" fill="#000"/>
<ellipse cx="624.46" cy="102.84" rx="1.8" ry="1.5" fill="#000"/>
<path d="M604.06 78.14 L605.46 76.34 L613.66 74.74 L620.66 74.94 L626.46 76.44 L628.16 79.24 L627.76 88.74 L619.66 91.54 L616.16 91.54 L606.36 90.34 L604.06 88.04 L604.06 77.94 Z" fill="#fff" stroke="#000" stroke-width="1.5" />
<path d="M604.26 79.44 Q604.86 81.34 606.06 81.74 Q616.16 83.34 626.26 81.34 L628.06 79.54" fill="none" stroke="#000" stroke-width="1.4" />
<line x1="606.56" y1="81.84" x2="606.56" y2="90.14" stroke="#000" stroke-width="1.1"/>
<line x1="616.46" y1="82.94" x2="616.46" y2="91.44" stroke="#000" stroke-width="1.1"/>
<line x1="619.46" y1="82.54" x2="619.46" y2="91.44" stroke="#000" stroke-width="1.1"/>
</g>
<line x1="354.3" y1="348.5" x2="354.3" y2="374.1" stroke="#000" stroke-width="1"/>
<line x1="405.3" y1="355" x2="405.3" y2="380.5" stroke="#000" stroke-width="1"/>
<line x1="359.65" y1="369.9" x2="399.65" y2="375.6" stroke="#000" stroke-width="1"/>
<path d="M354.7 369.2 L364.16 373.68 L365.04 367.54 Z" fill="#000"/>
<path d="M404.6 376.3 L394.26 377.96 L395.14 371.82 Z" fill="#000"/>
<text x="0" y="0" transform="translate(365.8,363.4) rotate(5) skewX(0) scale(0.96,1)" font-size="14.5" fill="#000">125</text>
<line x1="414.5" y1="354.5" x2="433.5" y2="372" stroke="#000" stroke-width="1"/>
<text x="0" y="0" transform="translate(438.2,375.6) rotate(5) skewX(0) scale(1,1)" font-size="14.5" fill="#000">G1 1/2”</text>
<line x1="558.4" y1="315.3" x2="558.4" y2="340" stroke="#000" stroke-width="1"/>
<line x1="609.6" y1="320.5" x2="609.6" y2="346.5" stroke="#000" stroke-width="1"/>
<line x1="563.97" y1="336.62" x2="603.33" y2="340.78" stroke="#000" stroke-width="1"/>
<path d="M559 336.1 L568.62 340.23 L569.27 334.07 Z" fill="#000"/>
<path d="M608.3 341.3 L598.03 343.33 L598.68 337.17 Z" fill="#000"/>
<text x="0" y="0" transform="translate(565.4,353.7) rotate(5) skewX(0) scale(0.96,1)" font-size="14.5" fill="#000">125</text>
<line x1="522.6" y1="284.2" x2="548" y2="271.7" stroke="#000" stroke-width="1"/>
<text x="0" y="0" transform="translate(533.8,263.8) rotate(5) skewX(0) scale(1,1)" font-size="14.5" fill="#000">G1 1/2”</text>
<line x1="117.56" y1="379.82" x2="634.04" y2="444.68" stroke="#000" stroke-width="1"/>
<path d="M112.6 379.2 L122.14 383.52 L122.91 377.37 Z" fill="#000"/>
<path d="M639 445.3 L628.69 447.13 L629.46 440.98 Z" fill="#000"/>
<text x="0" y="0" transform="translate(371.2,409) rotate(5) skewX(0) scale(0.96,1)" font-size="14.5" fill="#000">1300</text>
<text x="-5.39" y="0" transform="translate(692.35,380) scale(0.9,1)" font-size="14.6" fill="#0683d6">K</text>
<text x="-4.87" y="0" transform="translate(700.4,380) scale(0.8,1)" font-size="14.6" fill="#0683d6">S</text>
<text x="-4.87" y="0" transform="translate(709.1,380) scale(0.92,1)" font-size="14.6" fill="#0683d6">V</text>
<text x="-4.26" y="0" transform="translate(721.5,380) scale(0.85,1)" font-size="14.6" fill="#0683d6">1</text>
<text x="-4.06" y="0" transform="translate(729.35,380) scale(1,1)" font-size="14.6" fill="#0683d6">2</text>
<text x="-4.05" y="0" transform="translate(737.3,380) scale(0.98,1)" font-size="14.6" fill="#0683d6">5</text>
<text x="-2.43" y="0" transform="translate(744.45,380) scale(0.9,1)" font-size="14.6" fill="#0683d6">-</text>
<text x="-4.05" y="0" transform="translate(751.4,380) scale(0.98,1)" font-size="14.6" fill="#0683d6">5</text>
</svg></body></html>
